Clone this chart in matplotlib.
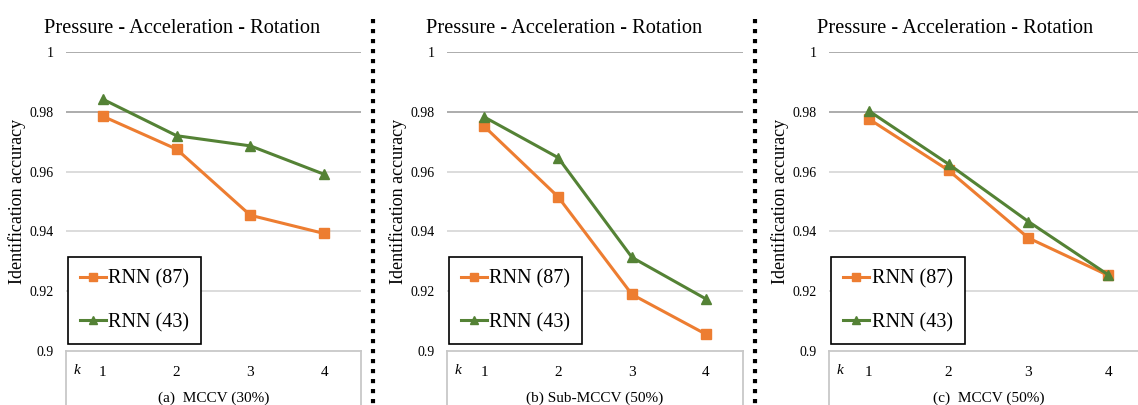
import matplotlib
matplotlib.use("Agg")
import matplotlib.pyplot as plt
from matplotlib.lines import Line2D

# values
k_values = [1, 2, 3, 4]
rnn87_a = [0.9785, 0.9675, 0.9454, 0.9393]
rnn43_a = [0.9842, 0.9720, 0.9686, 0.9591]
rnn87_b = [0.9752, 0.9516, 0.9189, 0.9056]
rnn43_b = [0.9783, 0.9647, 0.9313, 0.9174]
rnn87_c = [0.9776, 0.9604, 0.9378, 0.9253]
rnn43_c = [0.9803, 0.9625, 0.9433, 0.9255]
y_ticks = [0.9, 0.92, 0.94, 0.96, 0.98, 1.0]
y_labels = ["0.9", "0.92", "0.94", "0.96", "0.98", "1"]
titles = ["Pressure - Acceleration - Rotation"] * 3
xlabels = ["(a)  MCCV (30%)", "(b) Sub-MCCV (50%)", "(c)  MCCV (50%)"]
series_names = ["RNN (87)", "RNN (43)"]

ORANGE = "#ED7D31"
GREEN = "#548235"
BOX = "#c8c8c8"

plt.rcParams["font.family"] = ["Liberation Serif", "DejaVu Serif"]

W, H = 1138, 405
fig = plt.figure(figsize=(W / 100, H / 100), dpi=100)

# panel rectangles in pixels: left, right
panels = [(66, 361), (447, 743), (829, 1148)]
top_px, bot_px = 52, 351

data = [(rnn87_a, rnn43_a), (rnn87_b, rnn43_b), (rnn87_c, rnn43_c)]

for i, ((lpx, rpx), (s87, s43)) in enumerate(zip(panels, data)):
	ax = fig.add_axes([lpx / W, 1 - bot_px / H, (rpx - lpx) / W, (bot_px - top_px) / H])
	ax.set_xlim(0.5, 4.5)
	ax.set_ylim(0.9, 1.0)

	for t in y_ticks[1:]:
		c = "#a6a6a6" if t >= 0.98 else "#d9d9d9"
		ax.axhline(t, color=c, lw=1.3, zorder=0)

	ax.plot(k_values, s87, color=ORANGE, lw=2.2, marker="s", ms=6.5, label=series_names[0])
	ax.plot(k_values, s43, color=GREEN, lw=2.2, marker="^", ms=6.5, label=series_names[1])

	for side in ["top", "left", "right"]:
		ax.spines[side].set_visible(False)
	ax.spines["bottom"].set_color(BOX)
	ax.spines["bottom"].set_linewidth(1.3)
	# box below the plot holding the k labels
	for xx in [0, 1]:
		ax.plot([xx, xx], [0, -0.25], transform=ax.transAxes, color=BOX, lw=1.3, clip_on=False)

	ax.set_yticks(y_ticks)
	ax.set_yticklabels(y_labels, fontsize=10)
	ax.set_xticks(k_values)
	ax.set_xticklabels([str(k) for k in k_values], fontsize=11)
	ax.tick_params(axis="y", length=0, pad=9)
	ax.tick_params(axis="x", length=0, pad=11)
	ax.set_ylabel("Identification accuracy", fontsize=13, labelpad=2)
	ax.set_xlabel(xlabels[i], fontsize=11, labelpad=9)
	ax.text(0.024, -0.064, "k", transform=ax.transAxes, fontsize=11, style="italic",
		ha="left", va="center")

	ax.text(0.395, 1.078, titles[i], transform=ax.transAxes, fontsize=14.7,
		ha="center", va="center")

	leg = ax.legend(loc="lower left", bbox_to_anchor=(0.007, 0.023), borderaxespad=0,
		fancybox=False, edgecolor="black", framealpha=1, fontsize=14.5,
		handlelength=1.3, handletextpad=0.1, labelspacing=1.2,
		borderpad=0.6, markerscale=0.85)
	leg.get_frame().set_linewidth(1.2)

# dotted separators between panels
for xpx in [373, 755]:
	fig.add_artist(Line2D([xpx / W, xpx / W], [1 - 19 / H, 0], transform=fig.transFigure,
		color="black", lw=3.0, linestyle=(0, (1, 1.4))))

fig.savefig("out.png", dpi=100)
